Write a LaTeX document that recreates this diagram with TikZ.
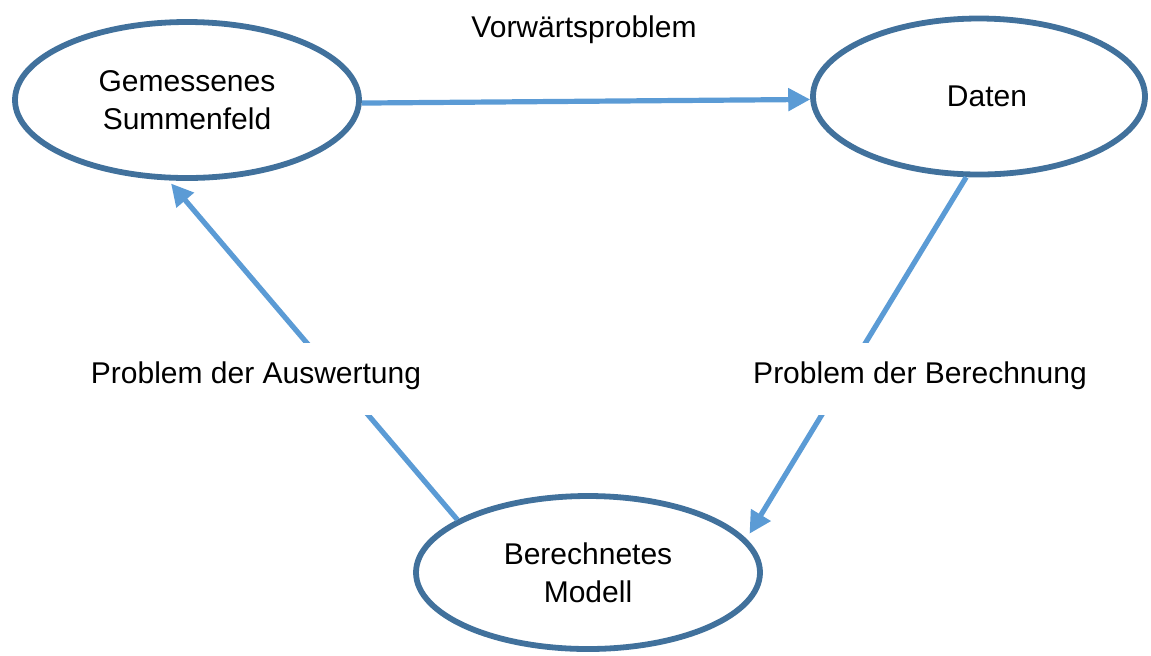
\documentclass[tikz,border=0pt]{standalone}
\usepackage{fontspec}
\setmainfont{Liberation Sans}
\usetikzlibrary{arrows.meta,shapes.geometric}
\definecolor{ellblue}{HTML}{41719C}
\definecolor{arrblue}{HTML}{5B9BD5}
\begin{document}
\begin{tikzpicture}[x=0.5pt,y=-0.5pt,
  ell/.style={ellipse,draw=ellblue,line width=2.9pt,fill=white,inner sep=0pt,
    align=center,font=\fontsize{15}{19}\selectfont},
  arr/.style={draw=arrblue,line width=2.6pt,-{Triangle[length=11pt,width=11pt]}},
  lbl/.style={font=\fontsize{15}{19}\selectfont,anchor=base},
  gaplbl/.style={lbl,fill=white,inner ysep=0pt,inner xsep=3pt,text height=20pt,text depth=16pt}]
\useasboundingbox (0,0) rectangle (1151,655);
\node[ell,minimum width=172pt,minimum height=78pt] (g) at (187,100) {Gemessenes\\Summenfeld};
\node[ell,minimum width=166pt,minimum height=78pt] (d) at (979,96.5) {\hspace*{8pt}Daten};
\node[ell,minimum width=172pt,minimum height=76.5pt] (m) at (588,572.5) {Berechnetes\\Modell};
\draw[arr] (g.-1) -- (d.181);
\draw[arr,shorten >=3pt] (d.261.3) -- (m.12.65);
\draw[arr,shorten >=2pt] (m.158.9) -- (g.257.8);
\node[lbl] (vp) at (584,37) {Vorwärtsproblem};
\node[gaplbl] (pa) at (256,383) {Problem der Auswertung};
\node[gaplbl] (pb) at (920,383) {Problem der Berechnung};
\end{tikzpicture}
\end{document}
